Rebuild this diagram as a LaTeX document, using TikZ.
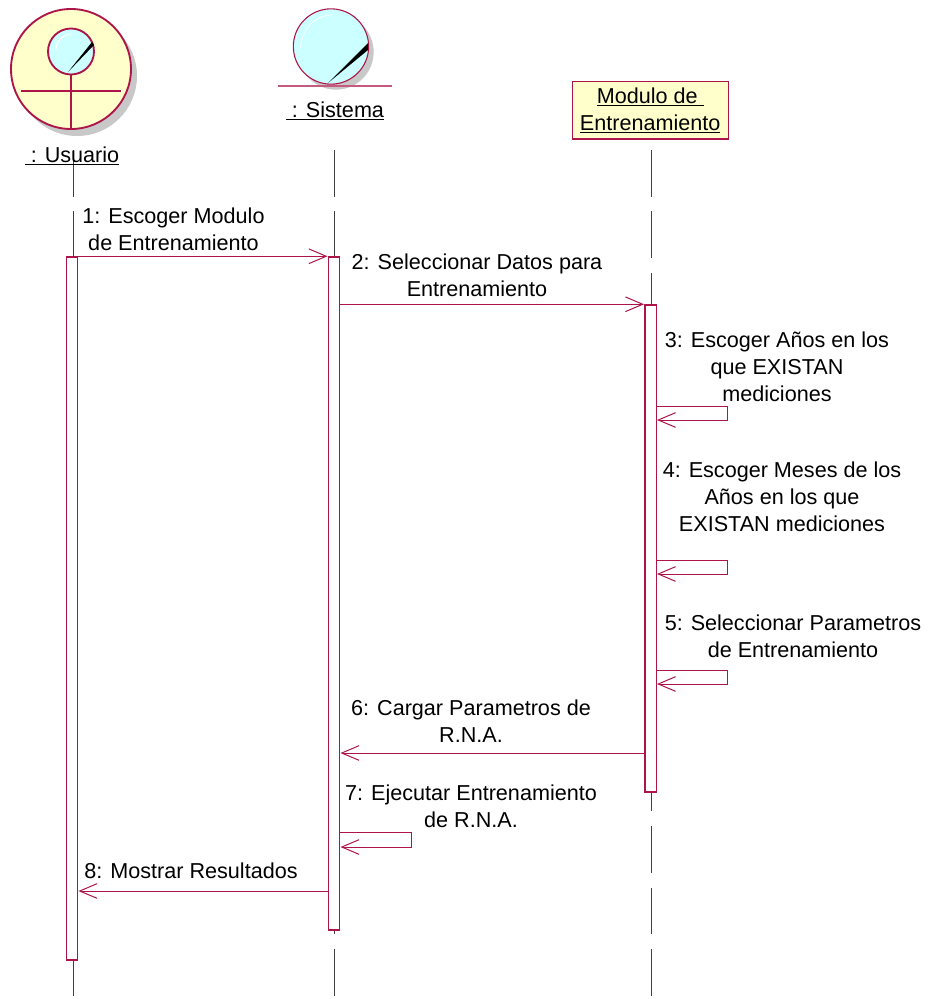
\documentclass[tikz,border=0pt]{standalone}
\usepackage{fontspec}
\setmainfont{Liberation Sans}
\usetikzlibrary{arrows.meta}
\definecolor{rose}{HTML}{AD1549}
\definecolor{paleyellow}{HTML}{FFFFCC}
\definecolor{palecyan}{HTML}{CCFFFF}
\definecolor{softgray}{HTML}{C8C8C8}
\tikzset{
    label text/.style={font=\fontsize{16.2}{20.25}\selectfont,align=center,inner sep=0pt,text=black},
    lifeline/.style={draw=black!75,line width=0.7pt,dash pattern=on 34.9pt off 11.2pt},
    actbar/.style={shape=rectangle,draw=rose,fill=white,line width=1.1pt,minimum width=8.6pt,inner sep=0pt},
    msg/.style={draw=rose,line width=0.75pt,-{Straight Barb[length=13pt,width=11pt,line width=0.75pt]}},
    shadow disc/.style={shape=circle,fill=softgray,inner sep=0pt},
    glint/.style={draw=white,line width=0.8pt}
}
\begin{document}
\begin{tikzpicture}[x=0.75pt,y=-0.75pt]
    \useasboundingbox (0,0) rectangle (928,999);

    % actor
    \node[shadow disc,minimum size=90pt] (UsuarioShadow) at (77,76) {};
    \node[shape=circle,draw=rose,fill=paleyellow,line width=1.4pt,minimum size=90pt,inner sep=0pt] (UsuarioBody) at (71,69) {};
    \node[shape=circle,draw=rose,fill=palecyan,line width=1.4pt,minimum size=34.5pt,inner sep=0pt] (UsuarioHead) at (71,51.5) {};
    \coordinate (UsuarioArmL) at (21,90.7);
    \coordinate (UsuarioArmR) at (121,90.7);
    \draw[rose,line width=1.4pt] (UsuarioHead.south) -- (UsuarioBody.south);
    \draw[rose,line width=1.4pt] (UsuarioArmL) -- (UsuarioArmR);
    \fill[black] (68,72) -- (92,42) -- (94,45) -- cycle;
    \draw[glint] (56,50) .. controls (56,41) and (63,34) .. (72,34);

    % boundary
    \node[shadow disc,minimum size=56.5pt] (SistemaShadow) at (336,52) {};
    \node[shape=circle,draw=rose,fill=palecyan,line width=0.8pt,minimum size=56.5pt,inner sep=0pt] (SistemaBody) at (331,46.5) {};
    \coordinate (SistemaBarL) at (278,86);
    \coordinate (SistemaBarR) at (392,86);
    \draw[rose!70,line width=1.1pt] (SistemaBarL) -- (SistemaBarR);
    \fill[black] (328,83) -- (368,43) -- (368,50) -- cycle;
    \draw[glint,line width=0.5pt] (300.7,48) .. controls (301,30) and (315,15) .. (332,15);

    % lifelines
    \coordinate (UsuarioTop) at (73,150);
    \coordinate (UsuarioEnd) at (73,998);
    \coordinate (SistemaTop) at (334,150);
    \coordinate (SistemaEnd) at (334,996);
    \coordinate (ModuloTop) at (651,150);
    \coordinate (ModuloEnd) at (651,996);
    \draw[lifeline] (UsuarioTop) -- (UsuarioEnd);
    \draw[lifeline] (SistemaTop) -- (SistemaEnd);
    \draw[lifeline] (ModuloTop) -- (ModuloEnd);

    % heads
    \node[label text] (UsuarioLabel) at (72,156) {\underline{\ : Usuario}};
    \node[label text] (SistemaLabel) at (335,111) {\underline{\ : Sistema}};
    \node[label text,shape=rectangle,draw=rose,fill=paleyellow,line width=1pt,minimum width=117pt,minimum height=43pt] (Modulo) at (650.2,110.3) {\underline{Modulo de\ }\\\underline{Entrenamiento}};

    % activations
    \node[actbar,minimum height=527.25pt] (UsuarioBar) at (72,608.5) {};
    \node[actbar,minimum height=504.75pt] (SistemaBar) at (334,593.5) {};
    \node[actbar,minimum height=365.25pt] (ModuloBar) at (650.5,548.5) {};

    % message heights
    \coordinate (Sel3) at (0,406);
    \coordinate (Sel4) at (0,560);
    \coordinate (Sel5) at (0,670);
    \coordinate (Load6) at (0,753);
    \coordinate (Run7) at (0,832);
    \coordinate (Show8) at (0,891);

    \draw[msg] (UsuarioBar.north east) -- (SistemaBar.north west);
    \draw[msg] (SistemaBar.east |- ModuloBar.north) -- (ModuloBar.north west);
    \draw[msg] (ModuloBar.east |- Sel3) -- ++(71,0) -- ++(0,14) -- ++(-71,0);
    \draw[msg] (ModuloBar.east |- Sel4) -- ++(71,0) -- ++(0,14) -- ++(-71,0);
    \draw[msg] (ModuloBar.east |- Sel5) -- ++(71,0) -- ++(0,14) -- ++(-71,0);
    \draw[msg] (ModuloBar.west |- Load6) -- (SistemaBar.east |- Load6);
    \draw[msg] (SistemaBar.east |- Run7) -- ++(71,0) -- ++(0,15) -- ++(-71,0);
    \draw[msg] (SistemaBar.west |- Show8) -- (UsuarioBar.east |- Show8);

    % message labels
    \node[label text] (Msg1) at (173.5,229.5) {1: Escoger Modulo\\de Entrenamiento};
    \node[label text] (Msg2) at (477,275.5) {2: Seleccionar Datos para\\Entrenamiento};
    \node[label text] (Msg3) at (777,366.5) {3: Escoger Años en los\\que EXISTAN\\mediciones};
    \node[label text] (Msg4) at (782,497) {4: Escoger Meses de los\\Años en los que\\EXISTAN mediciones};
    \node[label text] (Msg5) at (793,636) {5: Seleccionar Parametros\\de Entrenamiento};
    \node[label text] (Msg6) at (471,721.5) {6: Cargar Parametros de\\R.N.A.};
    \node[label text] (Msg7) at (471,806) {7: Ejecutar Entrenamiento\\de R.N.A.};
    \node[label text] (Msg8) at (191,871) {8: Mostrar Resultados};
\end{tikzpicture}
\end{document}
